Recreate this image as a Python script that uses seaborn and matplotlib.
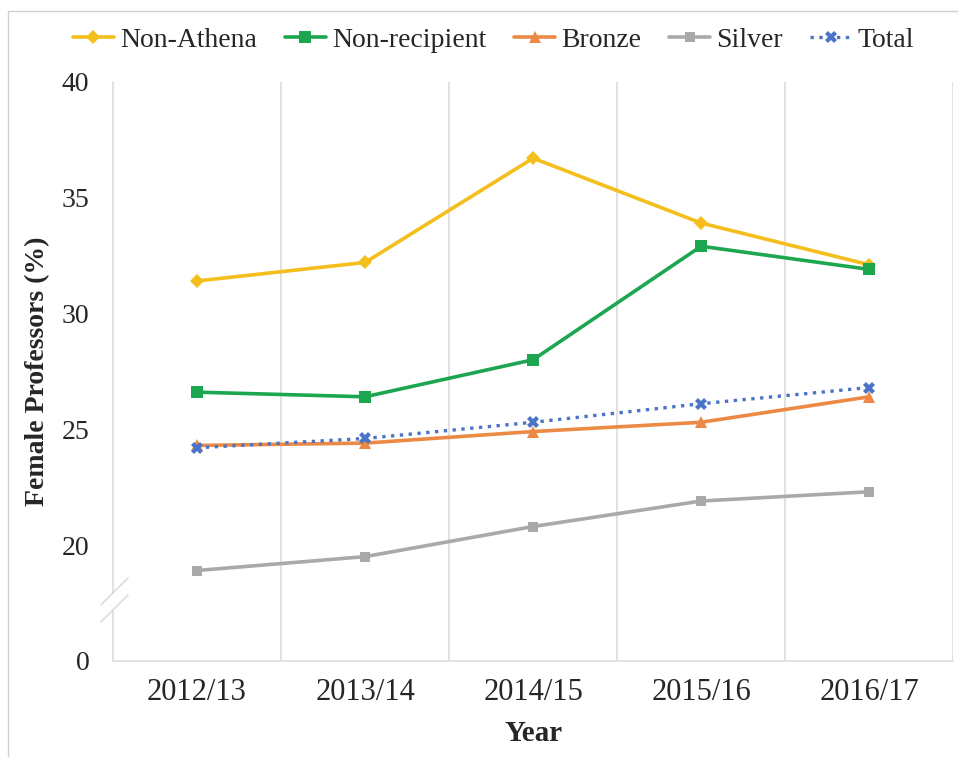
import matplotlib
matplotlib.use("Agg")
import matplotlib.pyplot as plt
from matplotlib.patches import Rectangle
import numpy as np
import pandas as pd
import seaborn as sns

# ======================
# data
# ======================
years = ["2012/13", "2013/14", "2014/15", "2015/16", "2016/17"]
non_athena = [31.4, 32.2, 36.7, 33.9, 32.1]
non_recipient = [26.6, 26.4, 28.0, 32.9, 31.9]
bronze = [24.3, 24.4, 24.9, 25.3, 26.4]
silver = [18.9, 19.5, 20.8, 21.9, 22.3]
total = [24.2, 24.6, 25.3, 26.1, 26.8]

series_names = ["Non-Athena", "Non-recipient", "Bronze", "Silver", "Total"]
series_vals = [non_athena, non_recipient, bronze, silver, total]

# broken axis: "0" drawn at the 15 position
ytick_pos = [15, 20, 25, 30, 35, 40]
ytick_lbl = ["0", "20", "25", "30", "35", "40"]

df = pd.DataFrame({
    "Year": years * len(series_names),
    "Value": sum(series_vals, []),
    "Series": np.repeat(series_names, len(years)),
})

# ======================
# style
# ======================
sns.set_theme(style="white")
plt.rcParams["font.family"] = ["Liberation Serif", "DejaVu Serif"]

styles = {
    "Non-Athena":    dict(color="#F4BE1C", marker="D", ms=7, ls="-", lw=2.6),
    "Non-recipient": dict(color="#1DA650", marker="s", ms=9, ls="-", lw=2.6),
    "Bronze":        dict(color="#EC8A45", marker="^", ms=9, ls="-", lw=2.6),
    "Silver":        dict(color="#A9A9A9", marker="s", ms=7, ls="-", lw=2.6),
    "Total":         dict(color="#4A74C6", marker="X", ms=8, ls=":", lw=2.4),
}

fig = plt.figure(figsize=(9.58, 7.57), dpi=100)
ax = fig.add_axes([0.118, 0.127, 0.877, 0.765])

for name in series_names:
    st = styles[name]
    sns.lineplot(
        data=df[df["Series"] == name], x="Year", y="Value",
        color=st["color"], marker=st["marker"], markersize=st["ms"],
        markeredgewidth=0, linestyle=st["ls"], linewidth=st["lw"],
        label=name, ax=ax, sort=False,
    )

ax.set_xlim(-0.5, len(years) - 0.5)
ax.set_ylim(15, 40)
ax.set_yticks(ytick_pos)
ax.set_yticklabels(ytick_lbl)
ax.tick_params(axis="x", labelsize=22, length=0, pad=12)
ax.tick_params(axis="y", labelsize=20, length=0, pad=17)

# vertical grid at category boundaries
for b in np.arange(0.5, len(years), 1.0):
    ax.axvline(b, color="#D9D9D9", lw=1.1, zorder=0)

for s in ["top", "right", "left"]:
    ax.spines[s].set_visible(False)
ax.spines["bottom"].set_color("#D9D9D9")
ax.spines["bottom"].set_linewidth(1.1)

# left spine with a gap + break marks
gc = "#D9D9D9"
ax.plot([0, 0], [0, 0.088], transform=ax.transAxes, color=gc, lw=1.1, clip_on=False)
ax.plot([0, 0], [0.117, 1], transform=ax.transAxes, color=gc, lw=1.1, clip_on=False)
ax.plot([-0.0143, 0.0179], [0.0967, 0.1433], transform=ax.transAxes, color=gc, lw=1.1, clip_on=False)
ax.plot([-0.0143, 0.0179], [0.0674, 0.1140], transform=ax.transAxes, color=gc, lw=1.1, clip_on=False)

ax.set_xlabel("Year", fontsize=21, fontweight="bold", labelpad=10)
ax.set_ylabel("Female Professors (%)", fontsize=20, fontweight="bold", labelpad=8,
              bbox=dict(facecolor="white", edgecolor="none", pad=6))

# chart border (top / left only visible in frame)
fig.patches.append(Rectangle((8 / 958, -0.05), 1.2, 1 - 11 / 757 + 0.05,
                             transform=fig.transFigure, fill=False,
                             edgecolor="#D0D0D0", lw=1.0, zorder=-1))

leg = ax.legend(loc="center", bbox_to_anchor=(0.515, 0.947), bbox_transform=fig.transFigure,
                ncol=5, frameon=False, fontsize=20, handlelength=1.5,
                handletextpad=0.2, columnspacing=1.0)

fig.savefig("out.png", dpi=100)
